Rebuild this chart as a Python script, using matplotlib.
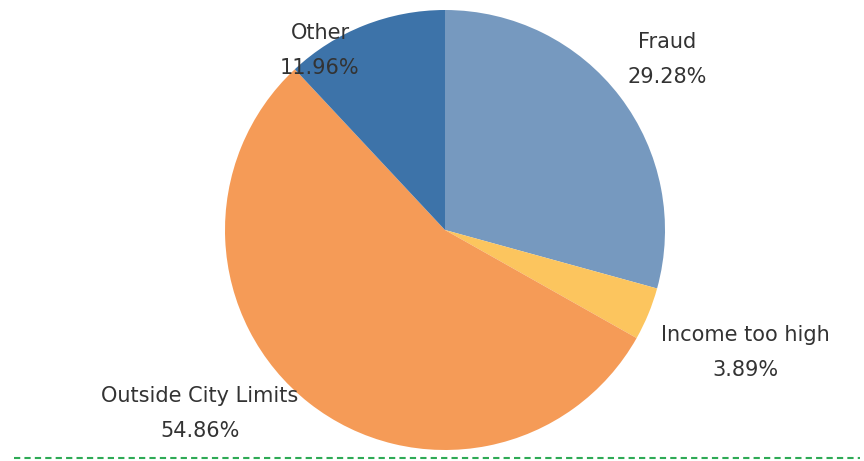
import matplotlib
matplotlib.use("Agg")
import matplotlib.pyplot as plt

categories = ["Fraud", "Income too high", "Outside City Limits", "Other"]
values = [29.28, 3.89, 54.86, 11.96]
colors = ["#7699BF", "#FCC55E", "#F59B57", "#3D73A9"]

W, H = 864, 461
fig = plt.figure(figsize=(W / 100, H / 100), dpi=100)
ax = fig.add_axes([0, 0, 1, 1])

cx, cy, r = 445, H - 230, 220
ax.pie(values, colors=colors, startangle=90, counterclock=False,
       center=(cx, cy), radius=r, frame=True,
       wedgeprops=dict(linewidth=0))
ax.set_xlim(0, W)
ax.set_ylim(0, H)
ax.set_aspect("equal")
ax.axis("off")

label_pos = {
    "Fraud": (667, 42),
    "Income too high": (745, 335),
    "Outside City Limits": (200, 396),
    "Other": (320, 33),
}
for cat, v in zip(categories, values):
    x, y = label_pos[cat]
    ax.text(x, H - y, cat, ha="center", va="center", fontsize=15,
            color="#333333", family="DejaVu Sans")
    ax.text(x, H - y - 35, f"{v:.2f}%", ha="center", va="center",
            fontsize=15, color="#333333", family="DejaVu Sans")

ax.plot([14, 860], [H - 458, H - 458], color="#2EAA55", lw=1.5,
        linestyle=(0, (3, 2)))

fig.savefig("out.png", dpi=100)
